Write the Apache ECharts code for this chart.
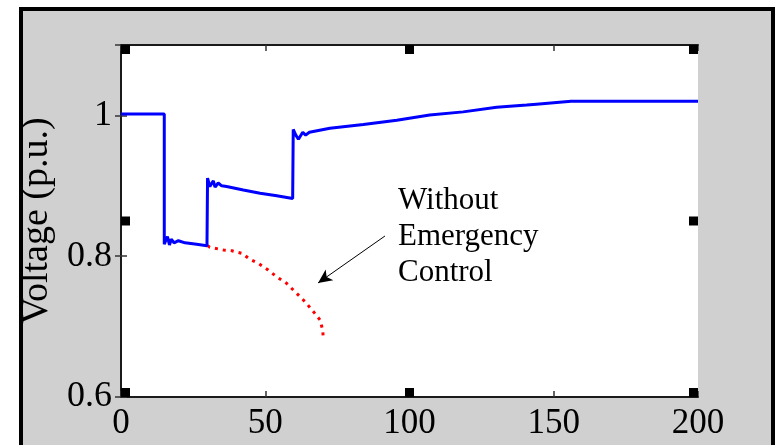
<!DOCTYPE html>
<html>
<head>
<meta charset="utf-8">
<script src="https://cdn.jsdelivr.net/npm/echarts@6/dist/echarts.min.js"></script>
<style>
  html, body { margin: 0; padding: 0; background: #ffffff; }
  #chart { width: 777px; height: 445px; }
</style>
</head>
<body>
<div id="chart"></div>
<script>
// Bus voltage after the disturbance, with emergency control (solid blue)
const withControlTime = [0, 15, 15, 16.1, 16.8, 17.4, 18.4, 19.9, 22.2, 26.2, 29.8,
  30, 30.8, 32.0, 32.6, 33.7, 34.9, 36.6, 42.4, 48.2, 54.0, 59.5,
  59.7, 60.6, 61.5, 63.0, 64.0, 65.3, 72.4, 84.0, 95.6, 107.0, 118.6, 130.2, 140.6, 144.0, 156.0, 200];
const withControlVoltage = [1.002, 1.002, 0.817, 0.828, 0.816, 0.824, 0.819, 0.822, 0.819, 0.817, 0.815,
  0.911, 0.899, 0.907, 0.898, 0.904, 0.900, 0.899, 0.894, 0.8895, 0.886, 0.882,
  0.980, 0.972, 0.966, 0.976, 0.972, 0.976, 0.9817, 0.987, 0.993, 1.0006, 1.005, 1.0115, 1.0148, 1.016, 1.020, 1.020];

// Voltage collapse without emergency control (red dotted)
const noControlTime = [30, 30.8, 35.5, 38.4, 41.9, 44.7, 47.6, 51.0, 53.9, 57.4, 60.9, 63.8, 66.7, 69.0, 69.9, 70.1];
const noControlVoltage = [0.815, 0.8127, 0.8088, 0.8078, 0.8041, 0.7956, 0.7899, 0.7804, 0.7709, 0.7614, 0.7472, 0.7354, 0.7212, 0.7094, 0.6952, 0.6848];

// Axis ranges and ticks
const xRange = [0, 200];
const xStep = 50;
const yRange = [0.6, 1.1];
const yStep = 0.2;

// Annotation: arrow from the label towards the red curve
const noteLines = ['Without', 'Emergency', 'Control'];
const arrowFrom = [91.5, 0.8287];
const arrowTo = [68.3, 0.762];

const pair = (xs, ys) => xs.map((x, i) => [x, ys[i]]);

const FONT = 'Liberation Serif';
const G = { left: 121, right: 79, top: 45, bottom: 48 };
const W = 777, H = 445;
const plotW = W - G.left - G.right;
const plotH = H - G.top - G.bottom;

// Square handles on corners and edge midpoints of the axes box
const HS = 9;
const handles = [];
[[0, 0], [0.5, 0], [1, 0], [0, 0.5], [1, 0.5], [0, 1], [0.5, 1], [1, 1]].forEach(([fx, fy]) => {
  let x = G.left + fx * plotW - (fx === 0 ? 0 : fx === 1 ? HS : HS / 2);
  let y = G.top + fy * plotH - (fy === 0 ? 0 : fy === 1 ? HS : HS / 2);
  handles.push({ type: 'rect', shape: { x: x, y: y, width: HS, height: HS }, style: { fill: '#000' }, z: 100 });
});

const axisLine = { show: true, lineStyle: { color: '#1a1a1a', width: 2 } };
const tick = { show: true, inside: true, length: 6, lineStyle: { color: '#333', width: 1.5 } };

const chart = echarts.init(document.getElementById('chart'), null, { renderer: 'canvas' });
chart.setOption({
  animation: false,
  backgroundColor: '#ffffff',
  graphic: [
    { type: 'rect', z: -10, shape: { x: 21, y: 9, width: 752, height: 460 },
      style: { fill: '#d0d0d0', stroke: '#000', lineWidth: 4 } },
    { type: 'text', left: 398, top: 183, z: 50,
      style: { text: noteLines.join('\n'), font: '31px "' + FONT + '"', fill: '#000', lineHeight: 36 } }
  ].concat(handles),
  grid: Object.assign({ show: true, backgroundColor: '#ffffff', borderWidth: 0,
    containLabel: false, outerBoundsMode: 'none' }, G),
  xAxis: [
    { type: 'value', min: xRange[0], max: xRange[1], interval: xStep, position: 'bottom',
      axisLine: axisLine, axisTick: tick, splitLine: { show: false },
      axisLabel: { color: '#000', fontFamily: FONT, fontSize: 35, margin: 9 } },
    { type: 'value', min: xRange[0], max: xRange[1], interval: xStep, position: 'top',
      axisLine: axisLine, axisTick: tick, splitLine: { show: false }, axisLabel: { show: false } }
  ],
  yAxis: [
    { type: 'value', min: yRange[0], max: yRange[1], interval: yStep, position: 'left',
      axisLine: axisLine, axisTick: tick, splitLine: { show: false },
      axisLabel: { color: '#000', fontFamily: FONT, fontSize: 36, margin: 9, showMaxLabel: false },
      name: 'Voltage (p.u.)', nameLocation: 'middle', nameGap: 59,
      nameTextStyle: { color: '#000', fontFamily: FONT, fontSize: 38 } },
    { type: 'value', min: yRange[0], max: yRange[1], interval: yStep, position: 'right',
      axisLine: axisLine, axisTick: tick, splitLine: { show: false }, axisLabel: { show: false } }
  ],
  series: [
    { type: 'line', name: 'With Emergency Control', data: pair(withControlTime, withControlVoltage),
      showSymbol: false, lineStyle: { color: '#0000ff', width: 3 }, z: 5 },
    { type: 'line', name: 'Without Emergency Control', data: pair(noControlTime, noControlVoltage),
      showSymbol: false, lineStyle: { color: '#ff0000', width: 3, type: [3, 5] }, z: 4,
      markLine: {
        silent: true, symbol: ['none', 'arrow'], symbolSize: [10, 14],
        label: { show: false },
        lineStyle: { color: '#000', width: 1, type: 'solid' },
        data: [[{ coord: arrowFrom }, { coord: arrowTo }]]
      } }
  ]
});
</script>
</body>
</html>
